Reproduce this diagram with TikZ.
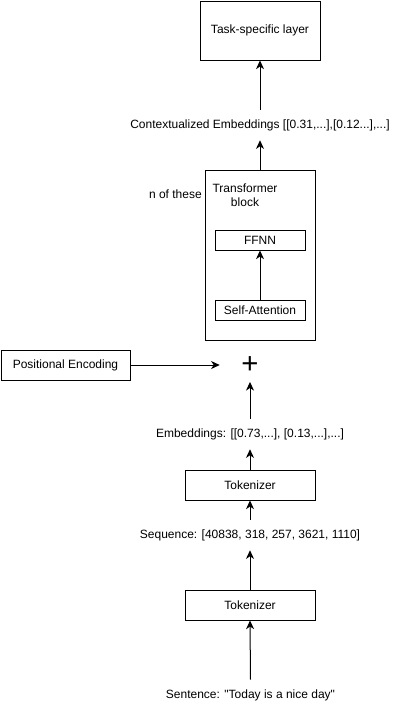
\documentclass[tikz,border=0pt]{standalone}
\usepackage{fontspec}
\setmainfont{Liberation Sans}[Ligatures=TeXOff]
\usetikzlibrary{arrows.meta}
\begin{document}
\begin{tikzpicture}[x=0.75pt,y=-0.75pt,
  box/.style={draw,line width=0.75pt,inner sep=0pt,font=\fontsize{9}{10.8}\selectfont},
  lbl/.style={inner sep=0pt,minimum height=22.5pt,font=\fontsize{9}{10.8}\selectfont},
  arr/.style={line width=0.75pt,-{Stealth[length=6.5pt,width=6pt,inset=2pt]}}]
\useasboundingbox (0,0) rectangle (406,711);
% boxes
\node[box,minimum width=90pt,minimum height=44.25pt] (task) at (260,30.5) {Task-specific layer};
\node[lbl] (ctx) at (260,125) {Contextualized Embeddings [[0.31,...],[0.12...],...]};
\node[box,minimum width=82.5pt,minimum height=127.5pt] (tblock) at (260,255) {};
\node[inner sep=0pt,align=center,font=\fontsize{9}{10.8}\selectfont] (tlabel) at (245,195) {Transformer\\block};
\node[inner sep=0pt,anchor=east,font=\fontsize{9}{10.8}\selectfont] (nthese) at (202,194) {n of these};
\node[box,minimum width=67.5pt,minimum height=15pt] (ffnn) at (260,240) {FFNN};
\node[box,minimum width=67.5pt,minimum height=15pt] (satt) at (260,310) {Self-Attention};
\node[box,minimum width=96.75pt,minimum height=22.5pt] (pos) at (65.5,365) {Positional Encoding};
\node[inner sep=0pt,minimum width=45pt,minimum height=25pt,font=\fontsize{22}{22}\selectfont] (plus) at (250,365) {+};
\node[lbl] (emb) at (250,434) {Embeddings: [[0.73,...], [0.13,...],...]};
\node[box,minimum width=97.5pt,minimum height=22.5pt] (tok1) at (250,485) {Tokenizer};
\node[lbl] (seq) at (250,535) {Sequence: [40838, 318, 257, 3621, 1110]};
\node[box,minimum width=97.5pt,minimum height=22.5pt] (tok2) at (250,605) {Tokenizer};
\node[lbl] (sent) at (250.5,695) {Sentence: "Today is a nice day"};
% arrows
\draw[arr] (ctx.north) -- (task.south);
\draw[arr] (tblock.north) -- (ctx.south);
\draw[arr] (satt.north) -- (ffnn.south);
\draw[arr] (pos.east) -- (plus.west);
\draw[arr] (emb.north) -- (plus.south);
\draw[arr] (tok1.north) -- (emb.south);
\draw[arr] (seq.north) -- (tok1.south);
\draw[arr] (tok2.north) -- (seq.south);
\draw[arr] (sent.north) -- (tok2.south);
\end{tikzpicture}
\end{document}
